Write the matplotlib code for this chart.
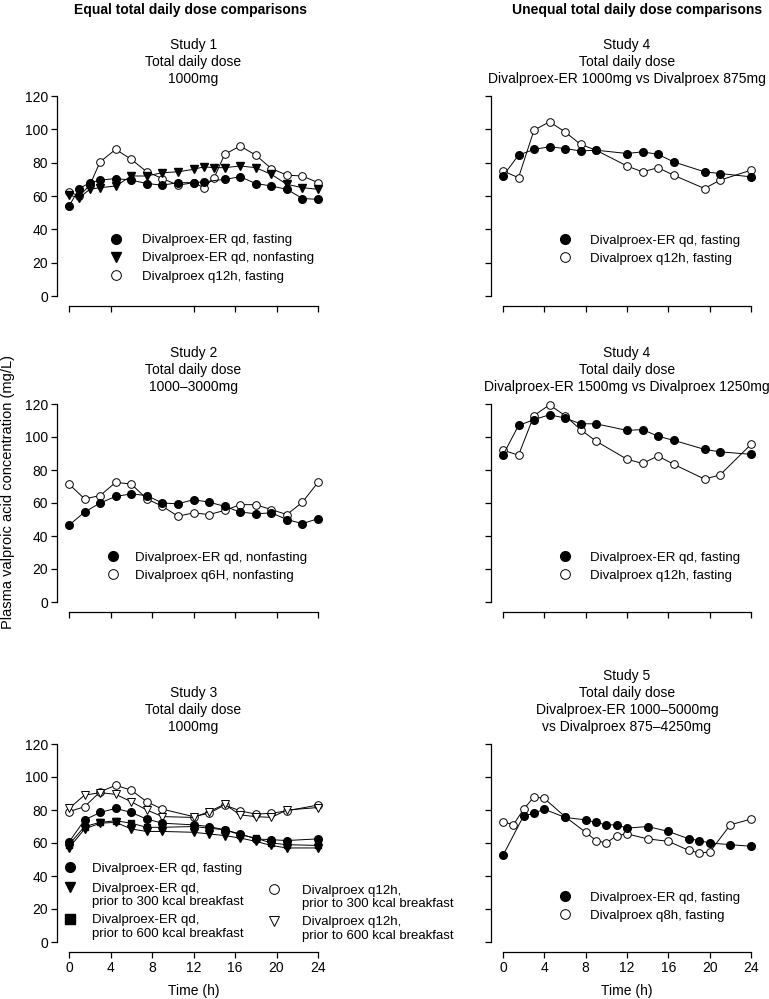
import matplotlib
matplotlib.use('Agg')
import matplotlib.pyplot as plt
from matplotlib.lines import Line2D
from matplotlib.legend import Legend
from matplotlib.legend_handler import HandlerLine2D

plt.rcParams['font.family'] = ['Liberation Sans', 'DejaVu Sans']

# ---- data ----
# Study 1, 1000mg
s1_t_er_fast = [0, 1, 2, 3, 4.5, 6, 7.5, 9, 10.5, 12, 13, 15, 16.5, 18, 19.5, 21, 22.5, 24]
s1_er_fast = [54, 64.5, 68, 69.5, 70.5, 69.5, 67.5, 66.5, 68, 68, 68.5, 70, 71.5, 67.5, 66, 64, 58.5, 58]
s1_t = [0, 1, 2, 3, 4.5, 6, 7.5, 9, 10.5, 12, 13, 14, 15, 16.5, 18, 19.5, 21, 22.5, 24]
s1_er_nonfast = [60.5, 59, 64, 65, 66, 72, 72, 74, 74.5, 76, 77.5, 77, 77, 78, 77, 73, 67, 65, 64]
s1_q12h_fast = [62.5, 60, 66.5, 80.5, 88, 82, 74.5, 70.5, 66.5, 68, 65, 71, 85, 90, 84.5, 76.5, 72.5, 72, 68]

# Study 2, 1000-3000mg
s2_t = [0, 1.5, 3, 4.5, 6, 7.5, 9, 10.5, 12, 13.5, 15, 16.5, 18, 19.5, 21, 22.5, 24]
s2_er_nonfast = [46.5, 54.5, 60, 64, 65.5, 64.5, 60, 59.5, 62, 60.5, 58, 54.5, 53.5, 54, 50, 47.5, 50.5]
s2_q6h_nonfast = [71.5, 62.5, 64.5, 72.5, 71.5, 62.5, 58, 52, 54, 53, 55.5, 59, 59, 56, 53, 60.5, 72.5]

# Study 3, 1000mg
s3_t = [0, 1.5, 3, 4.5, 6, 7.5, 9, 12, 13.5, 15, 16.5, 18, 19.5, 21, 24]
s3_er_fast = [60.5, 74, 78.5, 81, 78.5, 74.5, 72, 71, 70, 68, 65.5, 62.5, 62, 61.5, 62.5]
s3_er_300 = [57, 68.5, 72, 72.5, 68.5, 67, 67, 66.5, 65.5, 64.5, 63, 61, 58.5, 57, 57]
s3_er_600 = [59, 70, 72.5, 73.5, 72, 69.5, 69.5, 70, 69, 68, 65, 63, 60, 59, 58.5]
s3_q12h_300 = [79, 82, 91, 95, 92, 85, 80.5, 76, 78, 83, 79.5, 77.5, 78, 79.5, 83]
s3_q12h_600 = [81, 89, 90.5, 89.5, 85, 80, 76, 75.5, 79, 83.5, 77, 76, 75.5, 80, 81.5]

# Study 4, ER 1000mg vs 875mg and ER 1500mg vs 1250mg
s4_t = [0, 1.5, 3, 4.5, 6, 7.5, 9, 12, 13.5, 15, 16.5, 19.5, 21, 24]
s4a_er_fast = [72, 84.5, 88, 89.5, 88.5, 87, 87.5, 85.5, 86.5, 85, 80.5, 74.5, 73.5, 71.5]
s4a_q12h_fast = [75, 71, 99.5, 104.5, 98.5, 91, 87.5, 78, 74.5, 77, 72.5, 64.5, 69.5, 75.5]
s4b_er_fast = [89, 107, 110.5, 113.5, 111.5, 108, 108, 104, 104.5, 100.5, 98, 92.5, 91, 89.5]
s4b_q12h_fast = [92, 89, 113, 119.5, 113, 104.5, 97.5, 86.5, 84, 88.5, 83.5, 74.5, 77, 95.5]

# Study 5, ER 1000-5000mg vs 875-4250mg
s5_t_er = [0, 2, 3, 4, 6, 8, 9, 10, 11, 12, 14, 16, 18, 19, 20, 22, 24]
s5_er_fast = [52.5, 76.5, 78, 80.5, 75.5, 74, 72.5, 71, 71, 69, 70, 67, 62.5, 61.5, 60, 59, 58]
s5_t_q8h = [0, 1, 2, 3, 4, 6, 8, 9, 10, 11, 12, 14, 16, 18, 19, 20, 22, 24]
s5_q8h_fast = [73, 71, 80.5, 88, 87, 76, 66.5, 61.5, 60, 64.5, 65.5, 62.5, 61, 55.5, 54, 54.5, 71, 74.5]

x_ticks = [0, 4, 8, 12, 16, 20, 24]
x_ticks_s1 = [0, 4, 12, 16, 20, 24]
y_ticks = [0, 20, 40, 60, 80, 100, 120]

# marker styles
filled_o = dict(marker='o', mfc='black', mec='black', ms=5.5)
open_o = dict(marker='o', mfc='white', mec='black', ms=5.5, mew=0.7)
filled_v = dict(marker='v', mfc='black', mec='black', ms=6)
open_v = dict(marker='v', mfc='white', mec='black', ms=6, mew=0.7)
filled_s = dict(marker='s', mfc='black', mec='black', ms=5)

W, H = 769, 999
fig = plt.figure(figsize=(W / 100, H / 100), dpi=100)


class TopLineHandler(HandlerLine2D):
    # put the marker next to the first line of a two-line label
    def create_artists(self, legend, orig_handle, xdescent, ydescent,
                       width, height, fontsize, trans):
        arts = super().create_artists(legend, orig_handle, xdescent, ydescent,
                                      width, height, fontsize, trans)
        for a in arts:
            a.set_ydata([v + 0.62 * fontsize for v in a.get_ydata()])
        return arts


def make_axes(left, right, top, bottom):
    ax = fig.add_axes([left / W, 1 - bottom / H, (right - left) / W, (bottom - top) / H])
    ax.set_xlim(0, 24)
    ax.set_ylim(0, 120)
    for s in ['top', 'right']:
        ax.spines[s].set_visible(False)
    ax.spines['left'].set_position(('outward', 8.5))
    ax.spines['bottom'].set_position(('outward', 7.5))
    ax.spines['left'].set_bounds(0, 120)
    ax.spines['bottom'].set_bounds(0, 24)
    for s in ['left', 'bottom']:
        ax.spines[s].set_linewidth(0.9)
    ax.set_xticks(x_ticks)
    ax.set_yticks(y_ticks)
    ax.tick_params(direction='out', length=4, width=0.9, labelsize=10, pad=2.5)
    return ax


def series(ax, t, v, style):
    ax.plot(t, v, color='black', lw=0.7, clip_on=False, **style)


def handle(style):
    st = dict(style)
    st['ms'] = st['ms'] + 1.5
    return Line2D([], [], ls='none', **st)


def legend(ax, styles, labels, x, y, pad=1.3, two_line=False):
    hs = [handle(s) for s in styles]
    hmap = {h: TopLineHandler() for h in hs} if two_line else None
    leg = Legend(ax, hs, labels, loc='upper left', bbox_to_anchor=(x, y),
                 frameon=False, borderpad=0, borderaxespad=0,
                 handlelength=1.0, handletextpad=pad, labelspacing=0.45,
                 fontsize=9.5, handler_map=hmap)
    ax.add_artist(leg)
    return leg


def title(ax, text):
    ax.set_title(text, fontsize=10, linespacing=1.28, pad=9)


# column positions (px)
LX0, LX1 = 69, 318
RX0, RX1 = 503, 751
rows = [(96, 296), (404, 602), (744, 942)]

# ---- Study 1 ----
ax1 = make_axes(LX0, LX1, *rows[0])
series(ax1, s1_t, s1_q12h_fast, open_o)
series(ax1, s1_t, s1_er_nonfast, filled_v)
series(ax1, s1_t_er_fast, s1_er_fast, filled_o)
ax1.set_xticks(x_ticks_s1)
ax1.set_xticklabels([])
title(ax1, 'Study 1\nTotal daily dose\n1000mg')
legend(ax1, [filled_o, filled_v, open_o],
       ['Divalproex-ER qd, fasting', 'Divalproex-ER qd, nonfasting', 'Divalproex q12h, fasting'],
       0.162, 0.31, pad=1.45)

# ---- Study 2 ----
ax2 = make_axes(LX0, LX1, *rows[1])
series(ax2, s2_t, s2_q6h_nonfast, open_o)
series(ax2, s2_t, s2_er_nonfast, filled_o)
ax2.set_xticklabels([])
title(ax2, 'Study 2\nTotal daily dose\n1000\u20133000mg')
legend(ax2, [filled_o, open_o],
       ['Divalproex-ER qd, nonfasting', 'Divalproex q6H, nonfasting'],
       0.150, 0.255, pad=1.2)

# ---- Study 3 ----
ax3 = make_axes(LX0, LX1, *rows[2])
series(ax3, s3_t, s3_q12h_300, open_o)
series(ax3, s3_t, s3_q12h_600, open_v)
series(ax3, s3_t, s3_er_600, filled_s)
series(ax3, s3_t, s3_er_300, filled_v)
series(ax3, s3_t, s3_er_fast, filled_o)
title(ax3, 'Study 3\nTotal daily dose\n1000mg')
ax3.set_xlabel('Time (h)', fontsize=10, labelpad=6)
legend(ax3, [filled_o], ['Divalproex-ER qd, fasting'], -0.022, 0.402, pad=1.15)
legend(ax3, [filled_v, filled_s],
       ['Divalproex-ER qd,\nprior to 300 kcal breakfast',
        'Divalproex-ER qd,\nprior to 600 kcal breakfast'],
       -0.022, 0.30, pad=1.15, two_line=True)
legend(ax3, [open_o, open_v],
       ['Divalproex q12h,\nprior to 300 kcal breakfast',
        'Divalproex q12h,\nprior to 600 kcal breakfast'],
       0.797, 0.29, pad=1.6, two_line=True)

# ---- Study 4 (1000 vs 875) ----
ax4 = make_axes(RX0, RX1, *rows[0])
series(ax4, s4_t, s4a_q12h_fast, open_o)
series(ax4, s4_t, s4a_er_fast, filled_o)
ax4.set_xticklabels([])
ax4.set_yticklabels([])
title(ax4, 'Study 4\nTotal daily dose\nDivalproex-ER 1000mg vs Divalproex 875mg')
legend(ax4, [filled_o, open_o],
       ['Divalproex-ER qd, fasting', 'Divalproex q12h, fasting'],
       0.223, 0.3075, pad=1.4)

# ---- Study 4 (1500 vs 1250) ----
ax5 = make_axes(RX0, RX1, *rows[1])
series(ax5, s4_t, s4b_q12h_fast, open_o)
series(ax5, s4_t, s4b_er_fast, filled_o)
ax5.set_xticklabels([])
ax5.set_yticklabels([])
title(ax5, 'Study 4\nTotal daily dose\nDivalproex-ER 1500mg vs Divalproex 1250mg')
legend(ax5, [filled_o, open_o],
       ['Divalproex-ER qd, fasting', 'Divalproex q12h, fasting'],
       0.223, 0.255, pad=1.4)

# ---- Study 5 ----
ax6 = make_axes(RX0, RX1, *rows[2])
series(ax6, s5_t_q8h, s5_q8h_fast, open_o)
series(ax6, s5_t_er, s5_er_fast, filled_o)
ax6.set_yticklabels([])
ax6.set_xlabel('Time (h)', fontsize=10, labelpad=6)
title(ax6, 'Study 5\nTotal daily dose\nDivalproex-ER 1000\u20135000mg\nvs Divalproex 875\u20134250mg')
legend(ax6, [filled_o, open_o],
       ['Divalproex-ER qd, fasting', 'Divalproex q8h, fasting'],
       0.223, 0.256, pad=1.4)

# column headers and shared y label
fig.text(190 / W, 1 - 10 / H, 'Equal total daily dose comparisons',
         ha='center', va='center', fontsize=10, weight='bold')
fig.text(637 / W, 1 - 10 / H, 'Unequal total daily dose comparisons',
         ha='center', va='center', fontsize=10, weight='bold')
fig.text(8 / W, 1 - 492 / H, 'Plasma valproic acid concentration (mg/L)',
         rotation=90, ha='center', va='center', fontsize=10.5)

fig.savefig('out.png', dpi=100)
